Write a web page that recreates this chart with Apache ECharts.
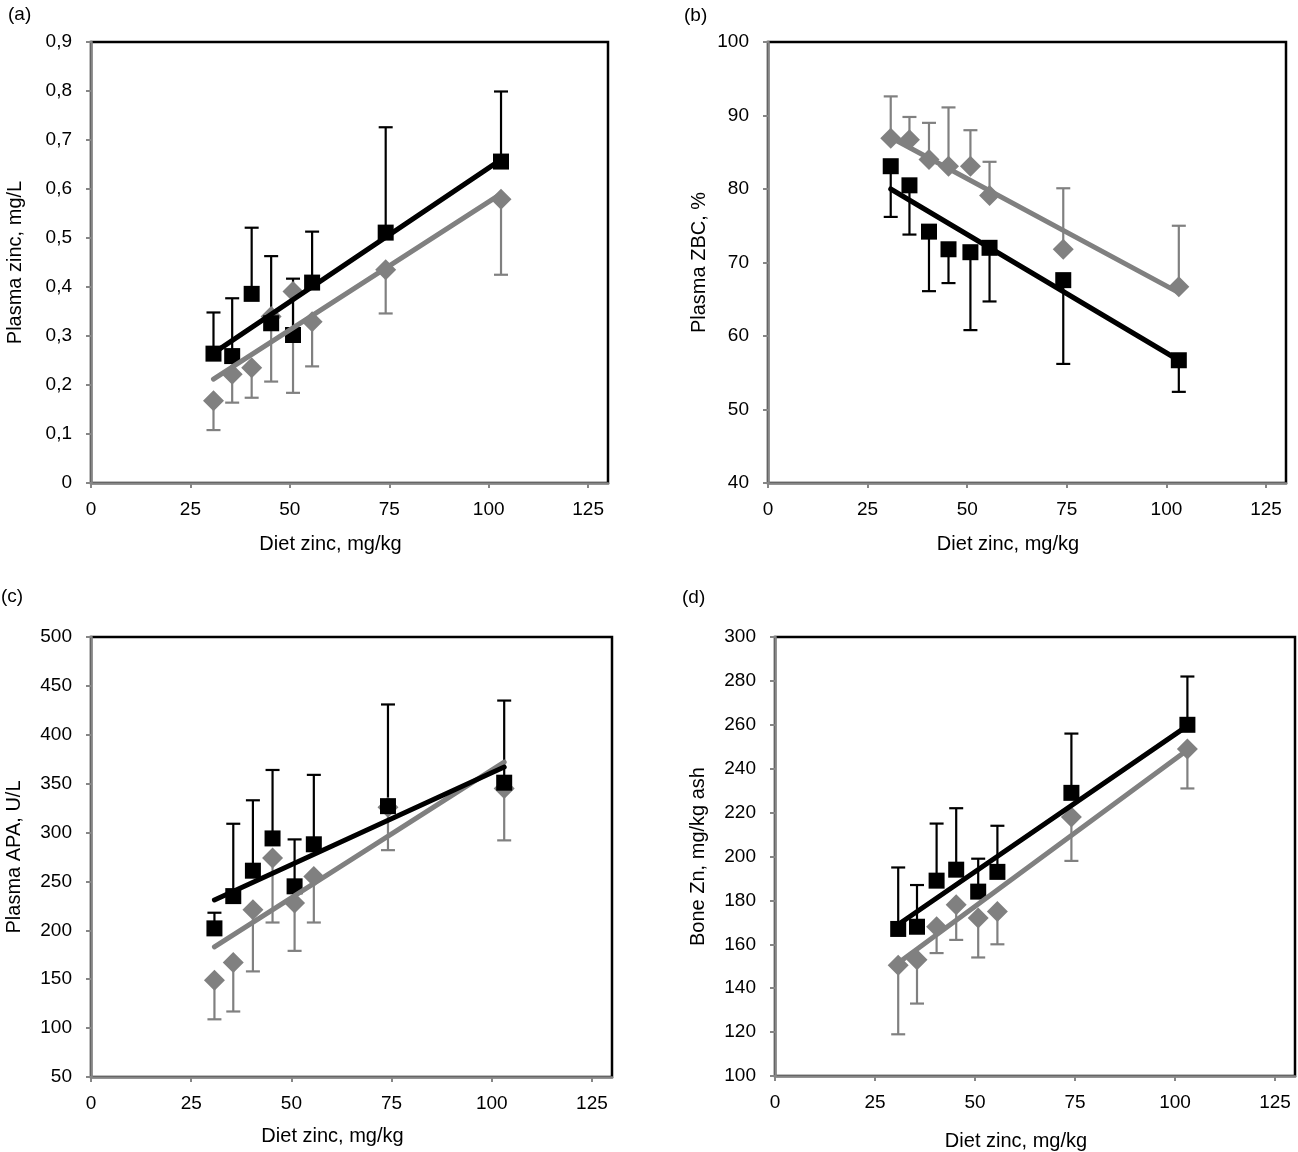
<!DOCTYPE html>
<html>
<head>
<meta charset="utf-8">
<script src="https://cdn.jsdelivr.net/npm/echarts@6/dist/echarts.min.js"></script>
<style>
html,body{margin:0;padding:0;background:#fff;}
#chart{width:1298px;height:1152px;}
</style>
</head>
<body>
<div id="chart"></div>
<script>
// Diet zinc levels (x)
const dietZinc = [30.8, 35.5, 40.4, 45.3, 50.8, 55.6, 74.1, 103.1];
const xTicks = [0, 25, 50, 75, 100, 125];

// (a) Plasma zinc, mg/L
const aBlack = [0.264, 0.259, 0.386, 0.326, 0.302, 0.409, 0.511, 0.656];
const aBlackErr = [0.348, 0.377, 0.521, 0.463, 0.417, 0.513, 0.726, 0.799];
const aGray = [0.168, 0.222, 0.235, 0.340, 0.391, 0.329, 0.435, 0.579];
const aGrayErr = [0.108, 0.164, 0.174, 0.207, 0.184, 0.238, 0.346, 0.425];
const aBlackTrend = [[30.8, 0.265], [103.1, 0.660]];
const aGrayTrend = [[30.8, 0.212], [103.1, 0.590]];

// (b) Plasma ZBC, %
const bBlack = [83.1, 80.5, 74.2, 71.8, 71.4, 72.0, 67.6, 56.7];
const bBlackErr = [76.2, 73.8, 66.1, 67.2, 60.8, 64.7, 56.2, 52.4];
const bGray = [86.9, 86.7, 84.0, 83.1, 83.1, 79.1, 71.8, 66.7];
const bGrayErr = [92.6, 89.8, 89.0, 91.1, 88.0, 83.7, 80.1, 75.0];
const bBlackTrend = [[30.8, 80.0], [103.1, 56.7]];
const bGrayTrend = [[30.8, 87.0], [103.1, 65.9]];

// (c) Plasma APA, U/L
const cBlack = [202, 235, 261, 294, 245, 288, 327, 351];
const cBlackErr = [218, 309, 333, 364, 293, 359, 431, 435];
const cGray = [149, 167, 221, 274, 228, 255, 326, 345];
const cGrayErr = [109, 117, 158, 208, 179, 208, 282, 292];
const cBlackTrend = [[30.8, 231], [103.1, 367]];
const cGrayTrend = [[30.8, 183], [103.1, 372]];

// (d) Bone Zn, mg/kg ash
const dBlack = [167, 168, 189, 194, 184, 193, 229, 260];
const dBlackErr = [195, 187, 215, 222, 199, 214, 256, 282];
const dGray = [150.5, 153, 168, 178, 172, 175, 218, 249];
const dGrayErr = [119, 133, 156, 162, 154, 160, 198, 231];
const dBlackTrend = [[30.8, 169], [103.1, 259.5]];
const dGrayTrend = [[30.8, 151.5], [103.1, 248.5]];

const panelLabels = ['(a)', '(b)', '(c)', '(d)'];
const yNames = ['Plasma zinc, mg/L', 'Plasma ZBC, %', 'Plasma APA, U/L', 'Bone Zn, mg/kg ash'];
const xName = 'Diet zinc, mg/kg';
const yMin = [0, 40, 50, 100];
const yMax = [0.9, 100, 500, 300];
const yStep = [0.1, 10, 50, 20];

const FONT = '"Liberation Sans", Arial, sans-serif';
const BLACK = '#000000';
const GRAY = '#808080';
const AXIS = '#868686';

const grids = [
  {left: 91, top: 42, width: 517, height: 441},
  {left: 768, top: 42, width: 518, height: 441},
  {left: 91, top: 637, width: 521, height: 440},
  {left: 775, top: 637, width: 520, height: 440}
];
const yNameGap = [66, 59, 67, 67];
const xNameGap = [51, 51, 49, 55];
const titlePos = [[8, 5], [684, 6], [1, 587], [682, 588]];

const panels = [
  {black: aBlack, blackErr: aBlackErr, gray: aGray, grayErr: aGrayErr, bt: aBlackTrend, gt: aGrayTrend},
  {black: bBlack, blackErr: bBlackErr, gray: bGray, grayErr: bGrayErr, bt: bBlackTrend, gt: bGrayTrend},
  {black: cBlack, blackErr: cBlackErr, gray: cGray, grayErr: cGrayErr, bt: cBlackTrend, gt: cGrayTrend},
  {black: dBlack, blackErr: dBlackErr, gray: dGray, grayErr: dGrayErr, bt: dBlackTrend, gt: dGrayTrend}
];

function errRender(color) {
  return function (params, api) {
    const x = api.value(0), y0 = api.value(1), y1 = api.value(2);
    const p0 = api.coord([x, y0]);
    const p1 = api.coord([x, y1]);
    const st = {stroke: color, lineWidth: 2.2};
    return {
      type: 'group',
      children: [
        {type: 'line', shape: {x1: p0[0], y1: p0[1], x2: p1[0], y2: p1[1]}, style: st},
        {type: 'line', shape: {x1: p1[0] - 7, y1: p1[1], x2: p1[0] + 7, y2: p1[1]}, style: st}
      ]
    };
  };
}

function yFmt(i) {
  return function (v) {
    if (i === 0) return v === 0 ? '0' : v.toFixed(1).replace('.', ',');
    return String(Math.round(v));
  };
}

const option = {
  animation: false,
  backgroundColor: '#ffffff',
  textStyle: {fontFamily: FONT, color: BLACK},
  title: panelLabels.map((t, i) => ({
    text: t, left: titlePos[i][0], top: titlePos[i][1], padding: 0,
    textStyle: {fontFamily: FONT, fontSize: 19, fontWeight: 'normal', color: BLACK}
  })),
  grid: grids.map(g => Object.assign({
    show: true, borderColor: BLACK, borderWidth: 2.5, backgroundColor: 'transparent', containLabel: false
  }, g)),
  xAxis: grids.map((g, i) => ({
    type: 'value', gridIndex: i, min: 0, max: 130, interval: 25,
    name: xName, nameLocation: 'middle', nameGap: xNameGap[i],
    nameTextStyle: {fontFamily: FONT, fontSize: 20, color: BLACK, padding: [0, 38, 0, 0]},
    axisLine: {show: true, onZero: false, lineStyle: {color: AXIS, width: 2.5}},
    axisTick: {show: true, length: 5, inside: false, lineStyle: {color: AXIS, width: 2}, customValues: xTicks},
    axisLabel: {fontFamily: FONT, fontSize: 19, color: BLACK, margin: 17, customValues: xTicks},
    splitLine: {show: false}
  })),
  yAxis: grids.map((g, i) => ({
    type: 'value', gridIndex: i, min: yMin[i], max: yMax[i], interval: yStep[i],
    name: yNames[i], nameLocation: 'middle', nameGap: yNameGap[i],
    nameTextStyle: {fontFamily: FONT, fontSize: 20, color: BLACK},
    axisLine: {show: true, onZero: false, lineStyle: {color: AXIS, width: 2.5}},
    axisTick: {show: true, length: 5, inside: false, lineStyle: {color: AXIS, width: 2}},
    axisLabel: {fontFamily: FONT, fontSize: 19, color: BLACK, margin: 19, formatter: yFmt(i)},
    splitLine: {show: false}
  })),
  series: []
};

panels.forEach((p, i) => {
  option.series.push({
    type: 'custom', xAxisIndex: i, yAxisIndex: i, z: 2,
    renderItem: errRender(GRAY),
    data: dietZinc.map((x, k) => [x, p.gray[k], p.grayErr[k]])
  });
  option.series.push({
    type: 'custom', xAxisIndex: i, yAxisIndex: i, z: 2,
    renderItem: errRender(BLACK),
    data: dietZinc.map((x, k) => [x, p.black[k], p.blackErr[k]])
  });
  option.series.push({
    type: 'scatter', xAxisIndex: i, yAxisIndex: i, z: 3,
    symbol: 'diamond', symbolSize: [21, 21],
    itemStyle: {color: GRAY, opacity: 1},
    data: dietZinc.map((x, k) => [x, p.gray[k]])
  });
  option.series.push({
    type: 'scatter', xAxisIndex: i, yAxisIndex: i, z: 4,
    symbol: 'rect', symbolSize: [16, 16],
    itemStyle: {color: BLACK, opacity: 1},
    data: dietZinc.map((x, k) => [x, p.black[k]])
  });
  option.series.push({
    type: 'line', xAxisIndex: i, yAxisIndex: i, z: 5,
    showSymbol: false, symbol: 'none',
    lineStyle: {color: GRAY, width: 5, cap: 'round'},
    data: p.gt
  });
  option.series.push({
    type: 'line', xAxisIndex: i, yAxisIndex: i, z: 6,
    showSymbol: false, symbol: 'none',
    lineStyle: {color: BLACK, width: 5, cap: 'round'},
    data: p.bt
  });
});

const chart = echarts.init(document.getElementById('chart'), null, {renderer: 'canvas'});
chart.setOption(option);
</script>
</body>
</html>
